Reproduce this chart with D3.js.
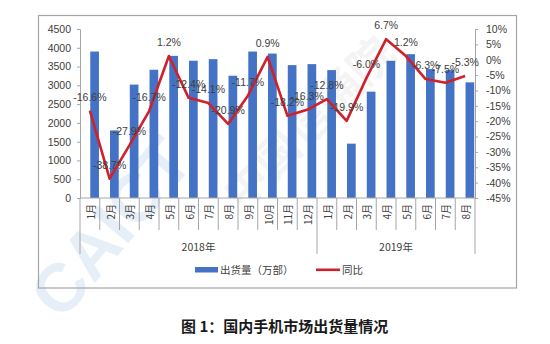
<!DOCTYPE html>
<html><head><meta charset="utf-8">
<script src="https://cdn.jsdelivr.net/npm/d3@7"></script>
<style>body{margin:0;background:#fff}svg{display:block}</style>
</head><body><svg id="c" width="550" height="344"></svg>
<script>
const months = ["1月","2月","3月","4月","5月","6月","7月","8月","9月","10月","11月","12月","1月","2月","3月","4月","5月","6月","7月","8月"];
const years = ["2018年","2019年"];
const yearCounts = [12, 8];
const shipments = [3900,1800,3020,3415,3785,3655,3697,3256,3900,3846,3538,3565,3406,1447,2832,3653,3829,3433,3406,3079];
const yoy = [-16.6,-38.7,-27.9,-16.7,1.2,-12.4,-14.1,-20.9,-11.7,0.9,-18.2,-16.3,-12.8,-19.9,-6.0,6.7,1.2,-6.3,-7.5,-5.3];
const leftTicks = [0,500,1000,1500,2000,2500,3000,3500,4000,4500];
const rightTicks = [10,5,0,-5,-10,-15,-20,-25,-30,-35,-40,-45];
const legendLabels = ["出货量（万部）","同比"];
const title = "图 1：国内手机市场出货量情况";

const svg = d3.select("#c");
const font = "'Liberation Sans', Arial, sans-serif";
const cjk = "'Noto Sans CJK SC', sans-serif";
const idx = d3.range(months.length);

// watermark
const wm = svg.append("g").attr("pointer-events","none");
wm.append("text").attr("transform","translate(62,322) rotate(-50)")
  .attr("font-family",font).attr("font-weight","bold").attr("font-size",68)
  .attr("fill","#4a86d0").attr("opacity",0.13).text("CAICT");
wm.append("text").attr("transform","translate(242,212) rotate(-45)")
  .attr("font-family",cjk).attr("font-weight","bold").attr("font-size",44)
  .attr("fill","#808080").attr("opacity",0.08).text("中国信通院");

// frame
svg.append("rect").attr("x",38.5).attr("y",15.5).attr("width",478).attr("height",272.5)
  .attr("fill","none").attr("stroke","#a6a6a6").attr("stroke-width",1.2);

const x = d3.scaleBand().domain(idx).range([80,475]).paddingInner(0).paddingOuter(0);
const yL = d3.scaleLinear().domain([0,4500]).range([198,29]);
const yR = d3.scaleLinear().domain([-45,10]).range([198,29]);
const bw = x.bandwidth()*0.44;

// bars
svg.append("g").selectAll("rect").data(idx).join("rect")
  .attr("x", i => x(i) + x.bandwidth()/2 + 0.4)
  .attr("width", bw)
  .attr("y", i => yL(shipments[i]))
  .attr("height", i => yL(0) - yL(shipments[i]))
  .attr("fill","#4472c4");

// left axis
const gL = svg.append("g").attr("transform","translate(80,0)")
  .call(d3.axisLeft(yL).tickValues(leftTicks).tickSize(3).tickPadding(6).tickFormat(d3.format("d")));
gL.select(".domain").attr("stroke","#a6a6a6");
gL.selectAll(".tick line").attr("stroke","#a6a6a6");
gL.selectAll("text").attr("font-family",font).attr("font-size",10.5).attr("fill","#404040");

// right axis
const gR = svg.append("g").attr("transform","translate(475,0)")
  .call(d3.axisRight(yR).tickValues(rightTicks).tickSize(3).tickPadding(8).tickFormat(d => d + "%"));
gR.select(".domain").attr("stroke","#a6a6a6");
gR.selectAll(".tick line").attr("stroke","#a6a6a6");
gR.selectAll("text").attr("font-family",font).attr("font-size",10.5).attr("fill","#404040");

// x axis baseline
svg.append("line").attr("x1",80).attr("x2",475).attr("y1",yL(0)).attr("y2",yL(0)).attr("stroke","#a6a6a6");

// separators
let cum = 0; const yearBounds = [0];
yearCounts.forEach(c => { cum += c; yearBounds.push(cum); });
svg.append("g").selectAll("line").data(d3.range(0, months.length+1)).join("line")
  .attr("x1", i => i < months.length ? x(i) : x.range()[1])
  .attr("x2", i => i < months.length ? x(i) : x.range()[1])
  .attr("y1", yL(0))
  .attr("y2", i => yearBounds.includes(i) ? 254 : 230)
  .attr("stroke","#a6a6a6").attr("stroke-width",1);

// month labels
svg.append("g").selectAll("text").data(idx).join("text")
  .attr("transform", i => `translate(${x(i)+x.bandwidth()/2+5},204) rotate(-90)`)
  .attr("text-anchor","end")
  .attr("font-family",cjk).attr("font-size",10).attr("fill","#404040")
  .text(i => months[i]);

// year labels
svg.append("g").selectAll("text").data(years).join("text")
  .attr("x", (d,j) => {
    const a = yearBounds[j], b = yearBounds[j+1];
    const xa = x(a), xb = b < months.length ? x(b) : x.range()[1];
    return (xa+xb)/2;
  })
  .attr("y", 251).attr("text-anchor","middle")
  .attr("font-family",cjk).attr("font-size",10.5).attr("fill","#404040")
  .text(d => d);

// line
const cx = i => x(i) + x.bandwidth()/2;
svg.append("path").datum(idx)
  .attr("d", d3.line().x(cx).y(i => yR(yoy[i])))
  .attr("fill","none").attr("stroke","#d0202a").attr("stroke-width",2.6).attr("stroke-linejoin","round");

// data labels
svg.append("g").selectAll("text").data(idx).join("text")
  .attr("x", cx).attr("y", i => yR(yoy[i]) - 10)
  .attr("text-anchor","middle")
  .attr("font-family",font).attr("font-size",10.5).attr("fill","#404040")
  .text(i => yoy[i].toFixed(1) + "%");

// legend
const lg = svg.append("g");
lg.append("rect").attr("x",195).attr("y",267).attr("width",23).attr("height",5.5).attr("fill","#4472c4");
lg.append("text").attr("x",220).attr("y",274).attr("font-family",cjk).attr("font-size",10.5).attr("fill","#404040").text(legendLabels[0]);
lg.append("line").attr("x1",316).attr("x2",340).attr("y1",269.8).attr("y2",269.8).attr("stroke","#d0202a").attr("stroke-width",2.6);
lg.append("text").attr("x",342).attr("y",274).attr("font-family",cjk).attr("font-size",10.5).attr("fill","#404040").text(legendLabels[1]);

// title
svg.append("text").attr("x",181).attr("y",332)
  .attr("font-family",cjk).attr("font-weight","bold").attr("font-size",15).attr("fill","#1a1a1a")
  .text(title);
</script></body></html>
